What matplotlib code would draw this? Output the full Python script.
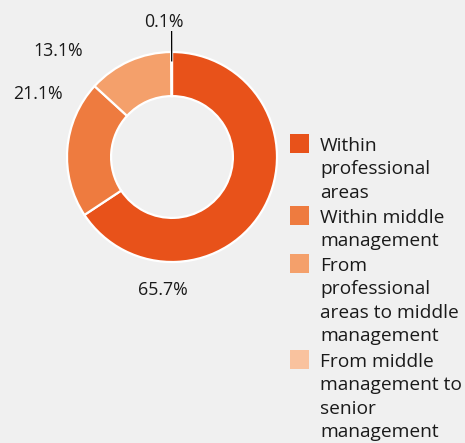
import matplotlib.pyplot as plt
import numpy as np
from matplotlib.patches import Rectangle

# =========================
# DATA
# =========================

categories = [
    "Within\nprofessional\nareas",
    "Within middle\nmanagement",
    "From\nprofessional\nareas to middle\nmanagement",
    "From middle\nmanagement to\nsenior\nmanagement",
]
shares = [65.7, 21.1, 13.1, 0.1]
value_labels = ["65.7%", "21.1%", "13.1%", "0.1%"]
colors = ["#e8521a", "#ee7b3f", "#f4a06b", "#f9c29e"]

# where each value label sits (angle in degrees, distance in radii)
label_angle = [-94, 155, 137, 93.4]
label_dist = [1.27, 1.41, 1.48, 1.29]

BG = "#f0f0f0"
FONT = "Open Sans"
W, H = 465, 443

fig = plt.figure(figsize=(W / 100, H / 100), dpi=100, facecolor=BG)

# donut centre (px) and outer radius (px)
cx, cy, R = 172, 157, 105
half = 150
ax = fig.add_axes([(cx - half) / W, (H - cy - half) / H, 2 * half / W, 2 * half / H])
ax.set_facecolor(BG)

ax.pie(
    shares,
    colors=colors,
    startangle=90,
    counterclock=False,
    radius=1.0,
    wedgeprops=dict(width=0.42, edgecolor="white", linewidth=1.6),
)
# pie resets the limits, so set them afterwards
ax.set_xlim(-half / R, half / R)
ax.set_ylim(-half / R, half / R)
ax.axis("off")

for txt, ang, d in zip(value_labels, label_angle, label_dist):
    a = np.deg2rad(ang)
    ax.text(d * np.cos(a), d * np.sin(a), txt, ha="center", va="center",
            fontsize=12.8, family=FONT, color="#1a1a1a", clip_on=False)

# leader line for the tiny slice
a = np.deg2rad(90 + shares[-1] * 1.8)
ax.plot([0.91 * np.cos(a), 1.2 * np.cos(a)], [0.91 * np.sin(a), 1.2 * np.sin(a)],
        color="black", lw=0.9, solid_capstyle="butt", clip_on=False)

# =========================
# LEGEND
# =========================

line_h = 24
top = 134
for lab, col in zip(categories, colors):
    fig.patches.append(Rectangle((290 / W, 1 - (top + 19) / H), 19 / W, 19 / H,
                                 transform=fig.transFigure, facecolor=col,
                                 edgecolor="none"))
    fig.text(320 / W, 1 - (top + 3) / H, lab, ha="left", va="top",
             fontsize=13.8, family=FONT, color="#1a1a1a", linespacing=1.38)
    top += line_h * (lab.count("\n") + 1)

fig.savefig("out.png", dpi=100, facecolor=BG)
